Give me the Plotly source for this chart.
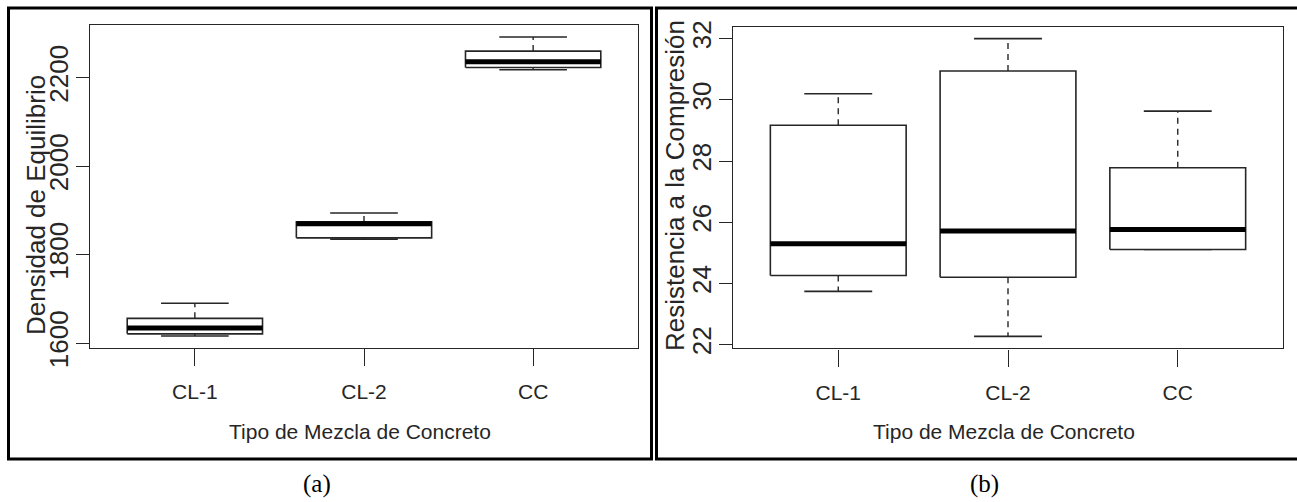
import plotly.graph_objects as go

W, H = 1297, 502

categories = ["CL-1", "CL-2", "CC"]

# Panel (a): Densidad de Equilibrio
dens_min = [1616, 1835, 2218]
dens_q1 = [1621, 1838, 2223]
dens_med = [1634, 1870, 2236]
dens_q3 = [1656, 1874, 2260]
dens_max = [1690, 1894, 2292]
dens_ticks = [1600, 1800, 2000, 2200]

# Panel (b): Resistencia a la Compresion
res_min = [23.74, 22.27, 25.11]
res_q1 = [24.26, 24.20, 25.11]
res_med = [25.30, 25.71, 25.76]
res_q3 = [29.17, 30.94, 27.78]
res_max = [30.20, 32.00, 29.63]
res_ticks = [22, 24, 26, 28, 30, 32]

x_title = "Tipo de Mezcla de Concreto"
y_title_a = "Densidad de Equilibrio"
y_title_b = "Resistencia a la Compresión"
captions = ["(a)", "(b)"]

INK = "#262626"
fig = go.Figure()


def add_boxes(xa, ya, mins, q1s, meds, q3s, maxs):
    hw, cw = 0.4, 0.2
    for i in range(len(categories)):
        # whiskers (dashed)
        fig.add_trace(go.Scatter(
            x=[i, i, None, i, i], y=[q3s[i], maxs[i], None, q1s[i], mins[i]],
            mode="lines", line=dict(color=INK, width=1.4, dash="6px,5px"),
            xaxis=xa, yaxis=ya, showlegend=False, hoverinfo="skip"))
        # caps
        fig.add_trace(go.Scatter(
            x=[i - cw, i + cw, None, i - cw, i + cw],
            y=[maxs[i], maxs[i], None, mins[i], mins[i]],
            mode="lines", line=dict(color=INK, width=1.6),
            xaxis=xa, yaxis=ya, showlegend=False, hoverinfo="skip"))
        # box
        fig.add_trace(go.Scatter(
            x=[i - hw, i + hw, i + hw, i - hw, i - hw],
            y=[q1s[i], q1s[i], q3s[i], q3s[i], q1s[i]],
            mode="lines", fill="toself", fillcolor="white",
            line=dict(color=INK, width=1.6),
            xaxis=xa, yaxis=ya, showlegend=False, hoverinfo="skip"))
        # median
        fig.add_trace(go.Scatter(
            x=[i - hw, i + hw], y=[meds[i], meds[i]],
            mode="lines", line=dict(color="black", width=5),
            xaxis=xa, yaxis=ya, showlegend=False, hoverinfo="skip"))


add_boxes("x", "y", dens_min, dens_q1, dens_med, dens_q3, dens_max)
add_boxes("x2", "y2", res_min, res_q1, res_med, res_q3, res_max)


def px_x(v):
    return v / W


def px_y(v):
    return 1 - v / H


xcommon = dict(
    range=[-0.62, 2.62], tickmode="array", tickvals=list(range(len(categories))),
    ticktext=categories, ticks="outside", ticklen=17, tickwidth=1.3, tickcolor=INK,
    showline=True, mirror=True, linecolor=INK, linewidth=1.4, automargin=False,
    showgrid=False, zeroline=False, fixedrange=True, ticklabelstandoff=8,
    tickfont=dict(family="Liberation Sans, Arial", size=21, color=INK),
)
ycommon = dict(
    tickmode="array", ticks="outside", ticklen=13, tickwidth=1.3, tickcolor=INK,
    showline=True, mirror=True, linecolor=INK, linewidth=1.4, automargin=False,
    showgrid=False, zeroline=False, fixedrange=True, tickangle=-90,
    ticklabelstandoff=-3,
    tickfont=dict(family="Liberation Sans, Arial", size=26, color=INK),
)

fig.update_layout(
    template="none",
    width=W, height=H, margin=dict(l=0, r=0, t=0, b=0, pad=0, autoexpand=False),
    paper_bgcolor="white", plot_bgcolor="white", showlegend=False,
    xaxis=dict(domain=[px_x(90), px_x(638)], anchor="y", **xcommon),
    yaxis=dict(domain=[px_y(348), px_y(25)], anchor="x", range=[1589, 2319],
               tickvals=dens_ticks, ticktext=[str(t) for t in dens_ticks], **ycommon),
    xaxis2=dict(domain=[px_x(733), px_x(1283)], anchor="y2", **xcommon),
    yaxis2=dict(domain=[px_y(348.3), px_y(26.7)], anchor="x2", range=[21.88, 32.39],
                tickvals=res_ticks, ticktext=[str(t) for t in res_ticks], **ycommon),
)

# outer frames
fig.add_shape(type="rect", xref="paper", yref="paper",
              x0=px_x(8.5), x1=px_x(651.5), y0=px_y(459), y1=px_y(8),
              line=dict(color="black", width=3))
fig.add_shape(type="rect", xref="paper", yref="paper",
              x0=px_x(656.5), x1=px_x(1305), y0=px_y(459), y1=px_y(8),
              line=dict(color="black", width=3))

ann = []
xt_font = dict(family="Liberation Sans, Arial", size=21, color=INK)
ya_font = dict(family="Liberation Sans, Arial", size=26, color=INK)
yb_font = dict(family="Liberation Sans, Arial", size=26, color=INK)
serif = dict(family="Liberation Serif, Times New Roman, serif", size=25, color="black")
ann.append(dict(text=x_title, x=px_x(360), y=px_y(431), font=xt_font))
ann.append(dict(text=x_title, x=px_x(1004), y=px_y(431), font=xt_font))
ann.append(dict(text=y_title_a, x=px_x(36), y=px_y(205), font=ya_font, textangle=-90))
ann.append(dict(text=y_title_b, x=px_x(675), y=px_y(186), font=yb_font, textangle=-90))
ann.append(dict(text=captions[0], x=px_x(317), y=px_y(484), font=serif))
ann.append(dict(text=captions[1], x=px_x(984), y=px_y(484), font=serif))
for a in ann:
    a.update(xref="paper", yref="paper", xanchor="center", yanchor="middle", showarrow=False)
fig.update_layout(annotations=ann)

fig.write_html("out.html", config={"displayModeBar": False},
               post_script="document.body.style.margin='0';document.body.style.overflow='hidden';")
